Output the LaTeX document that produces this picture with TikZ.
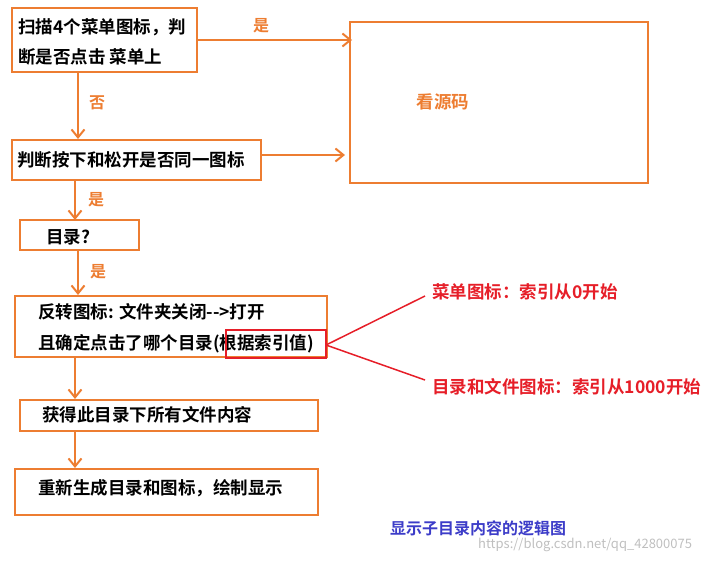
\documentclass[tikz,border=0pt]{standalone}
\usepackage{fontspec}
\setmainfont{Noto Sans CJK SC}[BoldFont={Noto Sans CJK SC Bold}]
\usetikzlibrary{arrows.meta}
\definecolor{flowor}{RGB}{237,125,49}
\definecolor{flowred}{RGB}{230,30,40}
\definecolor{flowblue}{RGB}{60,60,200}
\tikzset{
  stepbox/.style={draw=flowor, line width=2pt, inner sep=0pt},
  flowarrow/.style={draw=flowor, line width=2.5pt, -{Straight Barb[length=8pt,width=13pt,line width=2pt]}},
  yeslabel/.style={text=flowor, font=\fontsize{16}{18}\selectfont\bfseries},
  boxtext/.style={anchor=west, inner sep=0pt, font=\fontsize{17.5}{20}\selectfont\bfseries}
}
\begin{document}
\begin{tikzpicture}[x=1pt,y=-1pt]
  \useasboundingbox (0,0) rectangle (719,562);

  % boxes
  \draw[stepbox] (12,8) rectangle (197,72);
  \node[boxtext] (scan1) at (18,27) {扫描4个菜单图标，判};
  \node[boxtext] (scan2) at (18,57) {断是否点击 菜单上};

  \draw[stepbox] (350,22) rectangle (648,183);
  \node[text=flowor, font=\fontsize{17.5}{20}\selectfont\bfseries] (src) at (443,102) {看源码};

  \draw[stepbox] (12,140) rectangle (261,180);
  \node[boxtext] (same) at (17,160) {判断按下和松开是否同一图标};

  \draw[stepbox] (20,220) rectangle (139,250);
  \node[boxtext] (dir) at (46,237) {目录?};

  \draw[stepbox] (15,296) rectangle (327,357);
  \node[boxtext] (flip1) at (38,312) {反转图标: 文件夹关闭-{}->打开};
  \node[boxtext] (flip2) at (38,344) {且确定点击了哪个目录(根据索引值)};
  \draw[flowred, line width=1.2pt] (226,330) rectangle (326,358);

  \draw[stepbox] (20,400) rectangle (318,431);
  \node[boxtext] (files) at (42,415) {获得此目录下所有文件内容};

  \draw[stepbox] (15,469) rectangle (318,515);
  \node[boxtext] (redraw) at (38,488) {重新生成目录和图标，绘制显示};

  % arrows
  \draw[flowarrow] (197,40) -- (352,40);
  \node[yeslabel] (yes1) at (261,26) {是};
  \draw[flowarrow] (78,72) -- (78,139);
  \node[yeslabel] (no1) at (97,103) {否};
  \draw[flowarrow] (261,155) -- (345,155);
  \draw[flowarrow] (75,180) -- (75,220);
  \node[yeslabel] (yes2) at (96,200) {是};
  \draw[flowarrow] (78,250) -- (78,295);
  \node[yeslabel] (yes3) at (98,272) {是};
  \draw[flowarrow] (75,357) -- (75,399);
  \draw[flowarrow] (75,431) -- (75,468);

  % index notes
  \coordinate (fork) at (326,345);
  \draw[flowred, line width=1.5pt] (fork) -- (425,296);
  \draw[flowred, line width=1.5pt] (fork) -- (425,380);
  \node[text=flowred, anchor=west, inner sep=0pt, font=\fontsize{17.5}{20}\selectfont\bfseries] (menuidx) at (432,292) {菜单图标：索引从0开始};
  \node[text=flowred, anchor=west, inner sep=0pt, font=\fontsize{17.5}{20}\selectfont\bfseries] (fileidx) at (432,387) {目录和文件图标：索引从1000开始};

  \node[text=flowblue, anchor=west, inner sep=0pt, font=\fontsize{16}{18}\selectfont\bfseries] (title) at (390,528) {显示子目录内容的逻辑图};
  \node[text=black!25, anchor=west, inner sep=0pt, font=\fontsize{13}{15}\selectfont] (mark) at (478,545) {https://blog.csdn.net/qq\_42800075};
\end{tikzpicture}
\end{document}
